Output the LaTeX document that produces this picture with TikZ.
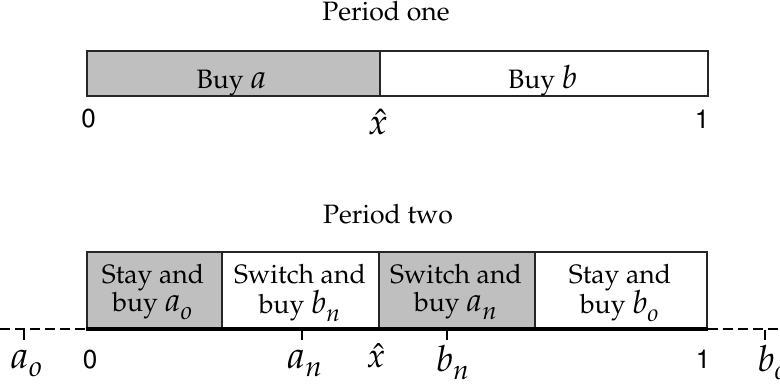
\documentclass[tikz,border=0pt]{standalone}
\usepackage[T1]{fontenc}
\usepackage{mathpazo}
\usepackage{tikz}
\usetikzlibrary{positioning,calc}
% italic letter with a low subscript, at a given size
\newcommand{\var}[3]{{\fontsize{#1}{#1}\selectfont$#2_{\lower1.6pt\hbox{$\scriptstyle #3$}}$}}
\tikzset{
  cellg/.style={draw=black!85,line width=0.9pt,fill=gray!50,inner sep=0pt,anchor=south west},
  cellw/.style={cellg,fill=white},
  txt/.style  ={anchor=base,inner sep=0pt,font=\fontsize{13.3}{14}\selectfont},
  num/.style  ={anchor=base,inner sep=0pt,font=\fontsize{13}{14}\fontfamily{phv}\selectfont},
  lab/.style  ={anchor=base,inner sep=0pt},
  axis/.style ={line width=1.8pt},
  ext/.style  ={line width=0.6pt,dash pattern=on 5pt off 2.5pt},
  tic/.style  ={line width=1.1pt},
}
\begin{document}
\begin{tikzpicture}[x=0.5pt,y=-0.5pt]
\useasboundingbox (0,0) rectangle (780,386);
% period one
\node[txt] (t1) at (386,20) {Period one};
\node[cellg,minimum width=146.5pt,minimum height=22.5pt] (buya) at (86,97) {};
\node[cellw,minimum width=164pt,minimum height=22.5pt] (buyb) at (379,97) {};
\node[txt] (buyat) at (232,88) {Buy \var{16.5}{a}{}};
\node[txt] (buybt) at (543,88) {Buy \var{16}{b}{}};
\node[num] (z1) at (88.5,127) {0};
\node[lab] (x1) at (378,134) {\fontsize{18}{18}\selectfont$\hat{x}$};
\node[num] (o1) at (702,128) {1};
% period two
\node[txt] (t2) at (388,223) {Period two};
\node[cellg,minimum width=67.5pt,minimum height=38pt] (sa) at (86,329) {};
\node[cellw,minimum width=78.5pt,minimum height=38pt] (wb) at (221,329) {};
\node[cellg,minimum width=78pt,minimum height=38pt] (wa) at (378,329) {};
\node[cellw,minimum width=86pt,minimum height=38pt] (sb) at (534,329) {};
\node[txt] (sa1) at (153,283) {Stay and};
\node[txt] (sa2) at (153,311) {buy \var{16.5}{a}{o}};
\node[txt] (wb1) at (300,283) {Switch and};
\node[txt] (wb2) at (300,313) {buy \var{16}{b}{n}};
\node[txt] (wa1) at (456,283) {Switch and};
\node[txt] (wa2) at (456,311) {buy \var{16.5}{a}{n}};
\node[txt] (sb1) at (620,283) {Stay and};
\node[txt] (sb2) at (620,313) {buy \var{16}{b}{o}};
\coordinate (l) at (0,329);
\coordinate (r) at (780,329);
\draw[axis] (sa.south west) -- (sb.south east);
\draw[ext] (l) -- (sa.south west);
\draw[ext] (sb.south east) -- (r);
% ticks
\coordinate (ao) at (24,330);
\coordinate (an) at (302,330);
\coordinate (bn) at (447,330);
\coordinate (bo) at (765,330);
\foreach \t in {ao,an,bn,bo}
  \draw[tic] (\t) -- ++(0,10);
\node[lab] (aol) at (27,368) {\var{19}{a}{o}};
\node[num] (z2) at (90,368) {0};
\node[lab] (anl) at (305,368) {\var{19}{a}{n}};
\node[lab] (x2) at (376,367) {\fontsize{17}{17}\selectfont$\hat{x}$};
\node[lab] (bnl) at (453,371) {\var{18}{b}{n}};
\node[num] (o2) at (703,368) {1};
\node[lab] (bol) at (773,371) {\var{18}{b}{o}};
\end{tikzpicture}
\end{document}
